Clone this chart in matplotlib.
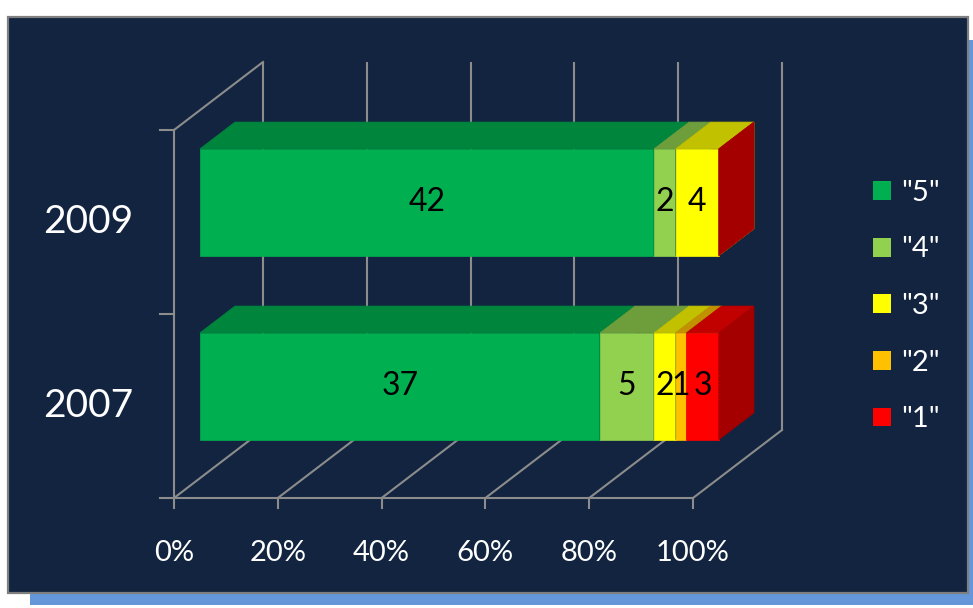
import matplotlib.pyplot as plt
from matplotlib.patches import Polygon, Rectangle, Patch

# data
years = ['2007', '2009']
grades = ['"5"', '"4"', '"3"', '"2"', '"1"']
counts_2007 = [37, 5, 2, 1, 3]
counts_2009 = [42, 2, 4, 0, 0]
tick_values = [0, 20, 40, 60, 80, 100]
tick_labels = ['0%', '20%', '40%', '60%', '80%', '100%']

front_colors = ['#00B050', '#92D050', '#FFFF00', '#FFC000', '#FF0000']
BG = '#12243F'
GRID = '#8C8C8C'

# layout (pixels of a 973x608 canvas)
W, H = 973, 608
X0, PPX = 174, 5.19     # 0% at x=174, px per percent
Y0, PPY = 498, 184      # floor at y=498, px per category
DEPTH_X, DEPTH_Y = 89 / PPX, 68 / PPY
D0, D1 = 0.29, 0.685    # bar front / back depth
HALF = 0.29             # half bar height in category units


def shade(hex_color, k):
    r, g, b = (int(hex_color[i:i + 2], 16) for i in (1, 3, 5))
    return '#%02X%02X%02X' % (int(r * k), int(g * k), int(b * k))


def proj(x, y, d):
    return (x + d * DEPTH_X, y + d * DEPTH_Y)


plt.rcParams['font.family'] = ['Lato', 'DejaVu Sans']

fig = plt.figure(figsize=(W / 100, H / 100), dpi=100)
fig.patch.set_facecolor('white')

# shadow + panel
fig.patches.append(Rectangle((30 / W, 3 / H), 944 / W, 565 / H, transform=fig.transFigure,
                             facecolor='#6397DA', edgecolor='none', zorder=-2))
fig.patches.append(Rectangle((8 / W, 15 / H), 960 / W, 576 / H, transform=fig.transFigure,
                             facecolor=BG, edgecolor='#7F7F7F', linewidth=1.6, zorder=-1))

ax = fig.add_axes([0, 0, 1, 1])
ax.set_xlim(-X0 / PPX, (W - X0) / PPX)
ax.set_ylim(-(H - Y0) / PPY, Y0 / PPY)
ax.axis('off')
ax.patch.set_alpha(0)

n_cat = len(years)
lw = 1.5

# back wall + floor lines
for t in tick_values:
    xs, ys = zip(proj(t, 0, 1), proj(t, n_cat, 1))
    ax.plot(xs, ys, color=GRID, lw=lw, solid_capstyle='butt')
    xs, ys = zip(proj(t, 0, 0), proj(t, 0, 1))
    ax.plot(xs, ys, color=GRID, lw=lw)
    # tick marks
    ax.plot([t, t], [0, -10 / PPY], color=GRID, lw=lw)

# front floor edge, left wall
ax.plot([0, 100], [0, 0], color=GRID, lw=lw)
ax.plot([0, 0], [0, n_cat], color=GRID, lw=lw)
xs, ys = zip(proj(0, n_cat, 0), proj(0, n_cat, 1))
ax.plot(xs, ys, color=GRID, lw=lw)
for k in range(n_cat + 1):
    ax.plot([-14 / PPX, 0], [k, k], color=GRID, lw=lw)

# bars
for i, (year, vals) in enumerate(zip(years, [counts_2007, counts_2009])):
    c = i + 0.5
    total = sum(vals)
    left = 0.0
    for v, col in zip(vals, front_colors):
        right = left + v / total * 100
        lo, hi = c - HALF, c + HALF
        front = [proj(left, lo, D0), proj(right, lo, D0), proj(right, hi, D0), proj(left, hi, D0)]
        top = [proj(left, hi, D0), proj(right, hi, D0), proj(right, hi, D1), proj(left, hi, D1)]
        side = [proj(right, lo, D0), proj(right, hi, D0), proj(right, hi, D1), proj(right, lo, D1)]
        ax.add_patch(Polygon(front, closed=True, facecolor=col, edgecolor=col, lw=0.5, zorder=3))
        ax.add_patch(Polygon(top, closed=True, facecolor=shade(col, 0.76), edgecolor=shade(col, 0.76), lw=0.5, zorder=3))
        ax.add_patch(Polygon(side, closed=True, facecolor=shade(col, 0.65), edgecolor=shade(col, 0.65), lw=0.5, zorder=3))
        if v > 0:
            lx, ly = proj((left + right) / 2, c, D0)
            ax.text(lx, ly, str(v), ha='center', va='center', fontsize=23, color='black', zorder=4)
        left = right
    # category label
    ax.text(-41 / PPX, c, year, ha='right', va='center', fontsize=28, color='white')

# x tick labels
for t, lab in zip(tick_values, tick_labels):
    ax.text(t, -55 / PPY, lab, ha='center', va='center', fontsize=21, color='white')

handles = [Patch(facecolor=col, edgecolor='none') for col in front_colors]
fig.legend(handles, grades, loc='center left', bbox_to_anchor=(873 / W, (H - 306) / H),
           frameon=False, fontsize=21, labelcolor='white', handlelength=0.62, handleheight=0.62,
           handletextpad=0.35, labelspacing=1.05, borderpad=0, borderaxespad=0)

fig.savefig('out.png', dpi=100, facecolor='white')
